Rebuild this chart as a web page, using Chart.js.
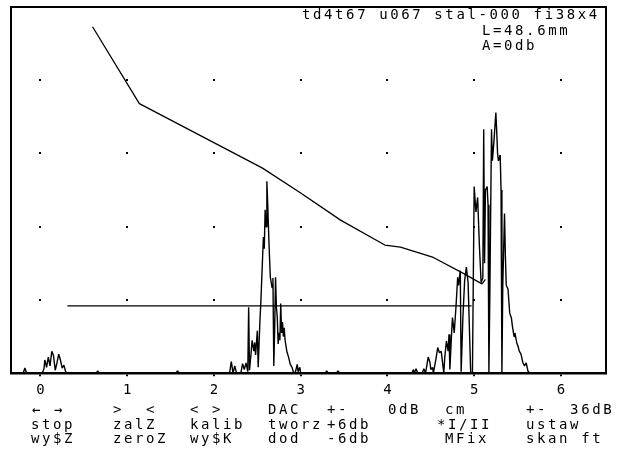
<!DOCTYPE html>
<html>
<head>
<meta charset="utf-8">
<script src="https://cdn.jsdelivr.net/npm/chart.js@4/dist/chart.umd.min.js"></script>
<style>
  html, body { margin: 0; padding: 0; background: #fff; }
  #wrap { position: relative; width: 621px; height: 459px; overflow: hidden; }
  #wrap canvas { position: absolute; left: 0; top: 0; }
  .t { position: absolute; font-family: "DejaVu Sans Mono", monospace; font-size: 14px;
       letter-spacing: 2.6px; line-height: 14px; color: #000; white-space: pre; }
</style>
</head>
<body>
<div id="wrap"><canvas id="scan" width="621" height="459"></canvas></div>
<script>
'use strict';

// Axis ticks (distance, cm) and rows of the dotted grid (amplitude divisions)
var xTicks = [0, 1, 2, 3, 4, 5, 6];
var gridRows = [1, 2, 3, 4];

// DAC curve
var dacPos = [0.60, 1.14, 2.56, 3.00, 3.46, 3.97, 4.15, 4.53, 4.88, 5.09, 5.13];
var dacAmp = [4.73, 3.68, 2.80, 2.46, 2.09, 1.75, 1.72, 1.58, 1.36, 1.22, 1.28];

// Gate (horizontal threshold line)
var gatePos = [0.31, 4.97];
var gateAmp = [0.92, 0.92];

// A-scan echo trace, [distance, amplitude]
var echoTrace = [
  [-0.34, 0], [-0.2, 0], [-0.18, 0.07], [-0.16, 0],
  [0.02, 0], [0.04, 0.06], [0.05, 0.18], [0.07, 0.08], [0.09, 0.22], [0.11, 0.1],
  [0.13, 0.3], [0.15, 0.24], [0.17, 0.04], [0.19, 0.14], [0.21, 0.26], [0.23, 0.18],
  [0.25, 0.07], [0.27, 0.11], [0.29, 0.02], [0.31, 0],
  [0.64, 0], [0.66, 0.03], [0.68, 0], [1.56, 0], [1.58, 0.03], [1.6, 0],
  [2.18, 0], [2.2, 0.16], [2.22, 0], [2.24, 0.1], [2.26, 0], [2.31, 0], [2.33, 0.13],
  [2.35, 0.05], [2.37, 0.14], [2.39, 0.02], [2.4, 0.9], [2.41, 0.04], [2.43, 0.3],
  [2.44, 0.45], [2.46, 0.3], [2.47, 0.42], [2.48, 0.25], [2.5, 0.58], [2.51, 0.08],
  [2.53, 0.72], [2.54, 0.95], [2.55, 1.26], [2.57, 1.86], [2.58, 1.7], [2.59, 2.23],
  [2.6, 2.0], [2.61, 2.62], [2.62, 2.3], [2.63, 1.93], [2.64, 1.6], [2.65, 1.31],
  [2.67, 1.17], [2.68, 1.3], [2.69, 0.1], [2.7, 0.6], [2.71, 1.31], [2.72, 0.9],
  [2.73, 0.76], [2.74, 0.4], [2.75, 0.55], [2.76, 0.45], [2.77, 0.95], [2.78, 0.55],
  [2.79, 0.7], [2.8, 0.5], [2.81, 0.62], [2.82, 0.45], [2.84, 0.3], [2.86, 0.22],
  [2.88, 0.12], [2.9, 0.08], [2.92, 0], [2.94, 0.02], [2.96, 0.12], [2.97, 0.02],
  [2.99, 0.08], [3.0, 0],
  [3.28, 0], [3.3, 0.03], [3.32, 0], [3.41, 0], [3.43, 0.03], [3.45, 0],
  [4.28, 0], [4.3, 0.05], [4.31, 0], [4.33, 0.06], [4.35, 0], [4.4, 0], [4.42, 0.06],
  [4.44, 0], [4.47, 0.22], [4.49, 0.15], [4.5, 0.05], [4.52, 0.08], [4.53, 0],
  [4.56, 0.2], [4.58, 0.35], [4.6, 0.28], [4.62, 0.3], [4.64, 0.1], [4.65, 0],
  [4.66, 0.2], [4.68, 0.44], [4.7, 0.3], [4.71, 0.53], [4.72, 0.05], [4.74, 0.55],
  [4.75, 0.76], [4.77, 0.55], [4.79, 0.9], [4.81, 1.31], [4.82, 1.2], [4.84, 1.4],
  [4.85, 0.02], [4.87, 0.76], [4.89, 1.26], [4.91, 1.45], [4.93, 1.24], [4.96, 0],
  [4.98, 0], [5.0, 2.55], [5.02, 2.2], [5.04, 2.4], [5.06, 1.75], [5.08, 1.24],
  [5.1, 1.3], [5.11, 3.33], [5.12, 1.5], [5.13, 2.5], [5.15, 2.55], [5.16, 2.3],
  [5.17, 0], [5.18, 1.0], [5.2, 3.33], [5.21, 2.9], [5.23, 3.2], [5.25, 3.56],
  [5.26, 3.3], [5.27, 3.0], [5.28, 2.9], [5.3, 2.98], [5.31, 2.5], [5.32, 0],
  [5.33, 1.2], [5.35, 2.18], [5.36, 1.6], [5.37, 1.2], [5.39, 1.15], [5.41, 0.82],
  [5.43, 0.75], [5.44, 0.65], [5.46, 0.5], [5.47, 0.55], [5.49, 0.42], [5.51, 0.35],
  [5.52, 0.3], [5.54, 0.26], [5.56, 0.15], [5.58, 0.1], [5.6, 0.14], [5.62, 0.03],
  [5.64, 0], [6.52, 0]
];

// Screen texts
var headerLines = ['td4t67 u067 stal-000 fi38x4', 'L=48.6mm', 'A=0db'];
var menuRows = [
  ['← →', '>  <', '< >', 'DAC', '+-', '0dB', 'cm', '+-  36dB'],
  ['stop', 'zalZ', 'kalib', 'tworz', '+6db', '*I/II', 'ustaw'],
  ['wy$Z', 'zeroZ', 'wy$K', 'dod', '-6db', 'MFix', 'skan ft']
];

// text placement (px)
var headerLeft = [302, 482, 482];
var headerTop = [7, 23, 38];
var menuLeft = [
  [32, 113, 190, 268, 327, 388, 445, 526],
  [31, 113, 190, 268, 327, 437, 526],
  [31, 113, 190, 268, 327, 445, 526]
];
var menuTop = [402, 417, 431];

var wrap = document.getElementById('wrap');
function addText(str, left, top) {
  var d = document.createElement('div');
  d.className = 't';
  d.textContent = str;
  d.style.left = left + 'px';
  d.style.top = top + 'px';
  wrap.appendChild(d);
}
headerLines.forEach(function(s, i) { addText(s, headerLeft[i], headerTop[i]); });
menuRows.forEach(function(row, r) {
  row.forEach(function(s, c) { addText(s, menuLeft[r][c], menuTop[r]); });
});

function toPoints(xs, ys) {
  return xs.map(function(x, i) { return {x: x, y: ys[i]}; });
}

// small dots where the grid lines would cross
var gridDots = {
  id: 'gridDots',
  beforeDatasetsDraw: function(chart) {
    var ctx = chart.ctx, xs = chart.scales.x, ys = chart.scales.y;
    ctx.save();
    ctx.fillStyle = '#000';
    xTicks.forEach(function(v) {
      gridRows.forEach(function(r) {
        ctx.fillRect(Math.round(xs.getPixelForValue(v)) - 1, Math.round(ys.getPixelForValue(r)) - 1, 2, 2);
      });
    });
    ctx.restore();
  }
};

var lineStyle = {
  showLine: true, borderColor: '#000', pointRadius: 0, tension: 0,
  borderJoinStyle: 'bevel', fill: false
};

var edge = {
  type: 'linear', display: true,
  ticks: {display: false},
  grid: {display: false, drawTicks: false},
  border: {display: true, color: '#000', width: 2}
};

new Chart(document.getElementById('scan').getContext('2d'), {
  type: 'scatter',
  data: {
    datasets: [
      Object.assign({data: echoTrace.map(function(p) { return {x: p[0], y: p[1]}; }), borderWidth: 1.4}, lineStyle),
      Object.assign({data: toPoints(dacPos, dacAmp), borderWidth: 1.3}, lineStyle),
      Object.assign({data: toPoints(gatePos, gateAmp), borderWidth: 1.3}, lineStyle)
    ]
  },
  options: {
    responsive: false,
    animation: false,
    layout: {padding: {left: 11, right: 15, top: 7, bottom: 54}},
    plugins: {legend: {display: false}, tooltip: {enabled: false}},
    scales: {
      x: {
        type: 'linear', position: 'bottom', min: -0.34, max: 6.52,
        border: {display: true, color: '#000', width: 2.5},
        grid: {drawOnChartArea: false, color: '#000', tickLength: 3, lineWidth: 2},
        ticks: {
          stepSize: 1, includeBounds: false, padding: 6, color: '#000',
          font: {family: 'DejaVu Sans Mono', size: 14}
        }
      },
      y: Object.assign({}, edge, {position: 'left', min: 0, max: 5}),
      x2: Object.assign({}, edge, {position: 'top', axis: 'x', min: 0, max: 1}),
      y2: Object.assign({}, edge, {position: 'right', axis: 'y', min: 0, max: 1})
    }
  },
  plugins: [gridDots]
});
</script>
</body>
</html>
